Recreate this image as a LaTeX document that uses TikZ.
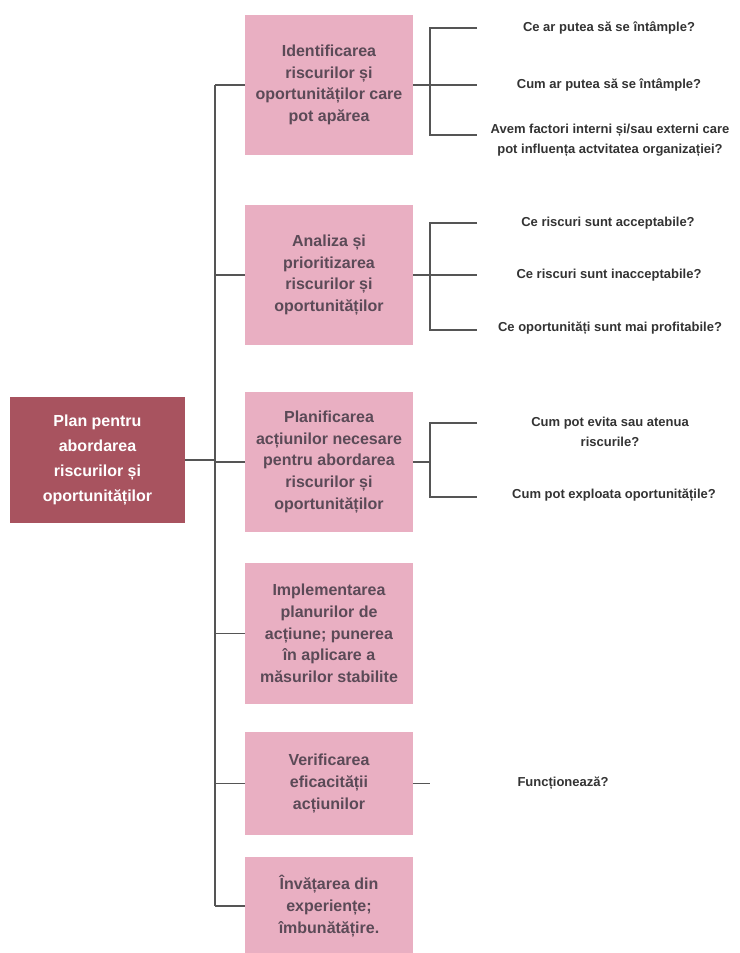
\documentclass[tikz,border=0pt]{standalone}
\usepackage{fontspec}
\setmainfont{Liberation Sans}
\definecolor{rootred}{HTML}{A8535F}
\definecolor{steppink}{HTML}{E9AFC2}
\definecolor{steptext}{HTML}{5B4A57}
\definecolor{linegray}{HTML}{555555}
\definecolor{asktext}{HTML}{333333}
\tikzset{
	rootbox/.style={fill=rootred,text=white,font=\bfseries\fontsize{16}{25}\selectfont,align=center,minimum width=175pt,minimum height=126pt,inner sep=0pt},
	stepbox/.style={fill=steppink,text=steptext,font=\bfseries\fontsize{16}{21.7}\selectfont,align=center,minimum width=168pt,inner sep=0pt},
	ask/.style={text=asktext,font=\bfseries\fontsize{13}{20}\selectfont,align=center,inner sep=0pt},
	link/.style={draw=linegray,line width=1.2pt}
}
\begin{document}
\begin{tikzpicture}[x=1pt,y=-1pt]
			\useasboundingbox (0,0) rectangle (739,953);
			\node[rootbox] (plan) at (97.5,460) {Plan pentru\\abordarea\\riscurilor și\\oportunităților};
			\node[stepbox,minimum height=140pt] (ident) at (329,85) {Identificarea\\riscurilor și\\oportunităților care\\pot apărea};
			\node[stepbox,minimum height=140pt] (anal) at (329,275) {Analiza și\\prioritizarea\\riscurilor și\\oportunităților};
			\node[stepbox,minimum height=140pt] (plani) at (329,462) {Planificarea\\acțiunilor necesare\\pentru abordarea\\riscurilor și\\oportunităților};
			\node[stepbox,minimum height=141pt] (impl) at (329,633.5) {Implementarea\\planurilor de\\acțiune; punerea\\în aplicare a\\măsurilor stabilite};
			\node[stepbox,minimum height=103pt] (verif) at (329,783.5) {Verificarea\\eficacității\\acțiunilor};
			\node[stepbox,minimum height=98pt] (inv) at (329,906) {Învățarea din\\experiențe;\\îmbunătățire.};
			% trunk
			\coordinate (tr) at (215,0);
			\draw[link] (ident.west -| tr) -- (inv.west -| tr);
			\draw[link] (plan.east) -- (plan.east -| tr);
			\foreach \b in {ident,anal,plani,impl,verif,inv}
				\draw[link] (\b.west) -- (\b.west -| tr);
			% questions
			\coordinate (br) at (430,0);
			\node[ask] (q11) at (609,28) {Ce ar putea să se întâmple?};
			\node[ask] (q12) at (609,85) {Cum ar putea să se întâmple?};
			\node[ask] (q13) at (610,140) {Avem factori interni și/sau externi care\\pot influența actvitatea organizației?};
			\coordinate (c11) at (477,28);
			\coordinate (c12) at (477,85);
			\coordinate (c13) at (477,135);
			\draw[link] (c11) -- (c11 -| br) -- (c13 -| br) -- (c13);
			\draw[link] (ident.east) -- (c12);
			\node[ask] (q21) at (608,223) {Ce riscuri sunt acceptabile?};
			\node[ask] (q22) at (609,275) {Ce riscuri sunt inacceptabile?};
			\node[ask] (q23) at (610,328) {Ce oportunități sunt mai profitabile?};
			\coordinate (c21) at (477,223);
			\coordinate (c22) at (477,275);
			\coordinate (c23) at (477,330);
			\draw[link] (c21) -- (c21 -| br) -- (c23 -| br) -- (c23);
			\draw[link] (anal.east) -- (c22);
			\node[ask] (q31) at (610,432) {Cum pot evita sau atenua\\riscurile?};
			\node[ask] (q32) at (614,495) {Cum pot exploata oportunitățile?};
			\coordinate (c31) at (477,423);
			\coordinate (c32) at (477,497);
			\draw[link] (c31) -- (c31 -| br) -- (c32 -| br) -- (c32);
			\draw[link] (plani.east) -- (plani.east -| br);
			\node[ask] (q51) at (563,783) {Funcționează?};
			\draw[link] (verif.east) -- (verif.east -| br);
\end{tikzpicture}
\end{document}
